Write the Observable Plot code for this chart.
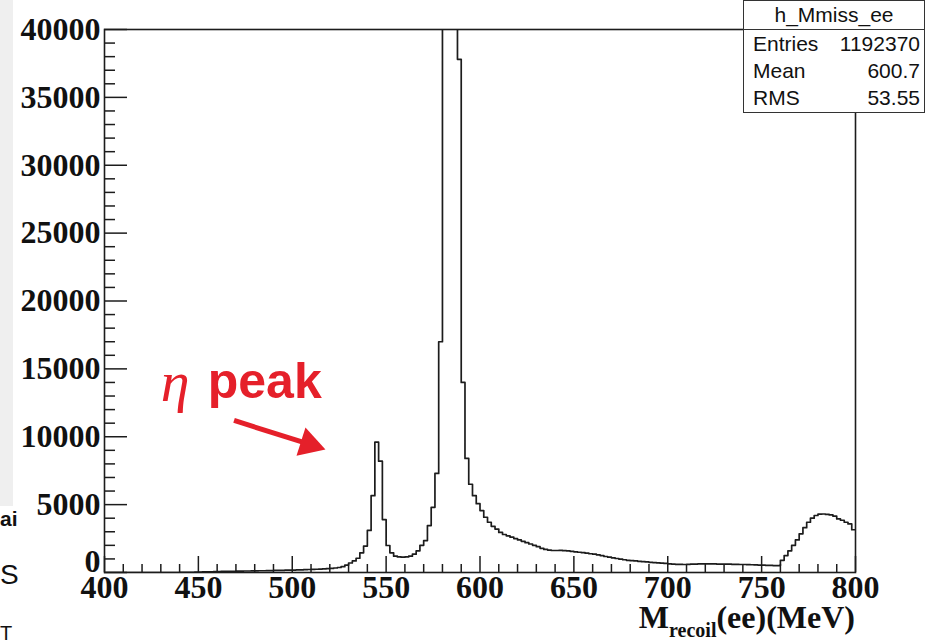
<!DOCTYPE html>
<html>
<head>
<meta charset="utf-8">
<script src="https://cdn.jsdelivr.net/npm/d3@7"></script>
<script src="https://cdn.jsdelivr.net/npm/@observablehq/plot@0.6"></script>
<style>
  html, body { margin: 0; padding: 0; background: #fff; }
  body { width: 933px; height: 641px; overflow: hidden; position: relative; font-family: "Liberation Sans", Arial, sans-serif; }
  #chart { position: absolute; left: 0; top: 0; }
  #chart svg text { font-family: "Liberation Serif", "Times New Roman", serif; font-weight: bold; fill: #111; }
  .strip { position: absolute; left: 0; top: 0; width: 13px; height: 506px; background: #efefef; }
  .frag { position: absolute; left: 0; color: #111; line-height: 1; }
  #stats { position: absolute; left: 743px; top: 0px; width: 182px; height: 113px; box-sizing: border-box;
           border: 1.5px solid #333; background: #fff; color: #111; font-size: 21px; }
  #stats .head { height: 28px; line-height: 28px; text-align: center; border-bottom: 1.5px solid #333; }
  #stats .row { display: flex; justify-content: space-between; height: 27px; line-height: 27px; padding: 0 4px 0 9px; }
  #xlabel { position: absolute; right: 78px; top: 601px; font-family: "Liberation Serif", serif; font-weight: bold;
            font-size: 32px; line-height: 32px; color: #111; white-space: nowrap; }
  #xlabel .sub { font-size: 20px; position: relative; top: 9px; }
</style>
</head>
<body>
<div class="strip"></div>
<div class="frag" style="top:508px;font-size:21px;font-weight:bold">ai</div>
<div class="frag" style="top:561px;font-size:28px">S</div>
<div class="frag" style="top:623px;font-size:20px">T</div>
<div id="chart"></div>
<div id="stats">
  <div class="head">h_Mmiss_ee</div>
  <div class="row"><span>Entries</span><span>1192370</span></div>
  <div class="row"><span>Mean</span><span>600.7</span></div>
  <div class="row"><span>RMS</span><span>53.55</span></div>
</div>
<div id="xlabel">M<span class="sub">recoil</span>(ee)(MeV)</div>
<script>
// Recoil-mass histogram, 2 MeV bins from 400 to 800 MeV (counts per bin)
const binLow = 400;
const binWidth = 2;
const counts = [
  0, 0, 0, 0, 0, 0, 0, 0, 0, 0,                                  // 400-418
  0, 0, 0, 0, 0, 0, 0, 0, 0, 0,                                  // 420-438
  10, 10, 20, 20, 30, 30, 40, 40, 50, 60,                        // 440-458
  70, 80, 80, 90, 90, 100, 100, 110, 110, 120,                   // 460-478
  120, 130, 130, 140, 140, 150, 150, 160, 170, 170,              // 480-498
  180, 190, 200, 210, 220, 230, 240, 250, 260, 280,              // 500-518
  300, 330, 370, 430, 550, 700, 850, 1050, 1450, 1950,           // 520-538
  3100, 5660, 9600, 8200, 3900, 1990, 1450, 1200, 1150, 1130,    // 540-558
  1150, 1200, 1350, 1600, 2000, 2350, 3460, 4800, 7300, 17000,   // 560-578
  62000, 118000, 112000, 58000, 37800, 14000, 8400, 6500, 5660, 5070, // 580-598
  4560, 4070, 3700, 3400, 3200, 2950, 2800, 2700, 2600, 2500,    // 600-618
  2400, 2300, 2200, 2100, 2000, 1900, 1780, 1700, 1650, 1620,    // 620-638
  1620, 1630, 1610, 1600, 1560, 1520, 1490, 1460, 1420, 1380,    // 640-658
  1350, 1300, 1250, 1180, 1130, 1080, 1030, 980, 940, 900,       // 660-678
  870, 850, 820, 800, 780, 750, 730, 710, 690, 670,              // 680-698
  640, 620, 600, 600, 590, 600, 610, 620, 630, 640,              // 700-718
  640, 630, 630, 620, 620, 610, 610, 600, 600, 590,              // 720-738
  590, 580, 570, 560, 550, 540, 530, 520, 510, 510,              // 740-758
  900, 1250, 1600, 2000, 2400, 2850, 3300, 3700, 4000, 4200,     // 760-778
  4300, 4310, 4280, 4240, 4150, 3950, 3850, 3700, 3580, 3150     // 780-798
];

// Axis tick values
const xTicks = [400, 450, 500, 550, 600, 650, 700, 750, 800];
const yTicks = [0, 5000, 10000, 15000, 20000, 25000, 30000, 35000, 40000];
const xMinor = d3.range(400, 801, 10).filter(v => v % 50 !== 0);
const yMinor = d3.range(0, 40001, 1000).filter(v => v % 5000 !== 0);

// Annotation pointing at the eta peak (data units)
const etaLabel = [{x: 430, y: 14000, glyph: "η", word: "peak", wordX: 455}];
const etaArrow = [{x1: 469, y1: 11200, x2: 509, y2: 9450}];

// Step outline: one point per bin low edge, closed at the upper edge
const steps = counts.map((c, i) => ({x: binLow + i * binWidth, y: c}));
steps.push({x: binLow + counts.length * binWidth, y: counts[counts.length - 1]});

const width = 933, height = 641;
const margin = {top: 29, right: 78, bottom: 69, left: 104};
const innerW = width - margin.left - margin.right;
const innerH = height - margin.top - margin.bottom;
const ink = "#1c1c1c";
const red = "#e5202a";

// on-screen direction of the arrow, used to turn its triangular head
const a = etaArrow[0];
const headAngle = Math.atan2((a.y1 - a.y2) * innerH / 40000, (a.x2 - a.x1) * innerW / 400) * 180 / Math.PI + 90;

const chart = Plot.plot({
  width, height,
  marginTop: margin.top, marginRight: margin.right, marginBottom: margin.bottom, marginLeft: margin.left,
  style: {fontSize: "32px", background: "transparent", overflow: "visible"},
  x: {domain: [400, 800], ticks: xTicks},
  y: {domain: [0, 40000], ticks: yTicks},
  marks: [
    Plot.line(steps, {x: "x", y: "y", curve: "step-after", stroke: ink, strokeWidth: 1.7, clip: true}),
    // inward ticks
    Plot.tickX(xTicks, {x: d => d, insetTop: innerH - 16, stroke: ink, strokeWidth: 1.5}),
    Plot.tickX(xMinor, {x: d => d, insetTop: innerH - 8, stroke: ink, strokeWidth: 1.5}),
    Plot.tickY(yTicks, {y: d => d, insetRight: innerW - 23, stroke: ink, strokeWidth: 1.5}),
    Plot.tickY(yMinor, {y: d => d, insetRight: innerW - 11, stroke: ink, strokeWidth: 1.5}),
    Plot.frame({stroke: ink, strokeWidth: 1.6}),
    Plot.axisX(xTicks, {tickSize: 0, tickPadding: 3, label: null, tickFormat: d => String(d)}),
    Plot.axisY(yTicks.filter(v => v !== 0), {tickSize: 0, tickPadding: 4, label: null, tickFormat: d => String(d)}),
    Plot.text([0], {y: d => d, frameAnchor: "left", text: d => String(d), textAnchor: "end", dx: -4, dy: -11}),
    // eta peak annotation
    Plot.text(etaLabel, {x: "x", y: "y", text: "glyph", textAnchor: "start", fill: red, fontSize: 58}),
    Plot.text(etaLabel, {x: "wordX", y: "y", text: "word", textAnchor: "start", fill: red, fontSize: 50}),
    Plot.link(etaArrow, {x1: "x1", y1: "y1", x2: "x2", y2: "y2", stroke: red, strokeWidth: 5}),
    Plot.dot(etaArrow, {x: "x2", y: "y2", symbol: "triangle", r: 11, fill: red, stroke: "none", rotate: headAngle})
  ]
});

// give the annotation texts their own fonts
chart.querySelectorAll("text").forEach(t => {
  if (t.textContent === "η") { t.style.fontFamily = "'Liberation Serif', serif"; t.style.fontStyle = "italic"; t.style.fontWeight = "normal"; t.style.fill = red; }
  if (t.textContent === "peak") { t.style.fontFamily = "'Liberation Sans', Arial, sans-serif"; t.style.fill = red; }
});

document.getElementById("chart").append(chart);
</script>
</body>
</html>
